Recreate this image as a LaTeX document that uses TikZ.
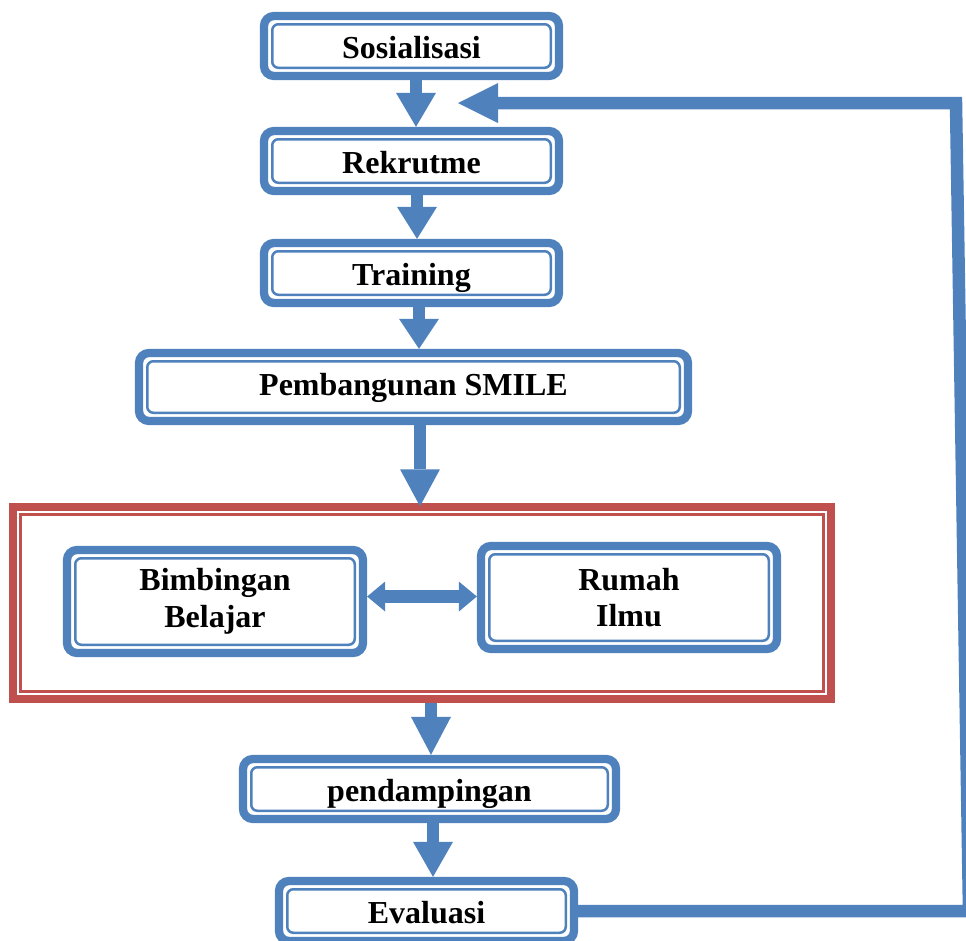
\documentclass[tikz,border=0pt]{standalone}
\usepackage{fontspec}
\setmainfont{Liberation Serif}
\usetikzlibrary{arrows.meta,calc}
\definecolor{ublue}{HTML}{4F81BD}
\definecolor{ured}{HTML}{C0504D}
\tikzset{
  bbox/.style={draw=ublue, line width=8.3pt, rounded corners=10pt, fill=white,
    inner sep=0pt, minimum width=295pt, minimum height=60pt, align=center,
    font=\fontsize{32}{36.5}\selectfont\bfseries},
  oneline/.style={text height=25pt, text depth=0pt},
  bthin/.style={draw=ublue, line width=2.5pt, rounded corners=6pt},
  redbox/.style={draw=ured, line width=8.3pt, inner sep=0pt,
    minimum width=817.6pt, minimum height=191.9pt},
  rthin/.style={draw=ured, line width=3.3pt},
  darrow/.style={draw=ublue, line width=12.5pt,
    -{Triangle[width=40pt,length=#1,line width=0pt]}},
  darrow/.default=34pt,
  barrow/.style={draw=ublue, line width=12.5pt, line join=miter}
}
\begin{document}
\begin{tikzpicture}[x=1pt,y=-1pt]
\path[use as bounding box] (0,0) rectangle (966,940);
\clip (0,0) rectangle (966,940);

% boxes
\node[bbox,oneline] (s) at (411.5,46) {Sosialisasi};
\node[bbox,oneline] (r) at (411.5,161) {Rekrutme};
\node[bbox,oneline] (t) at (411.5,273) {Training};
\node[bbox,text height=16pt,text depth=0pt,minimum width=549pt,minimum height=68pt] (p) at (413.5,387) {Pembangunan SMILE};
\node[redbox] (grp) at (422,602.85) {};
\node[bbox,minimum width=296pt,minimum height=103pt] (bb) at (215,601.5) {Bimbingan\\Belajar};
\node[bbox,minimum width=296pt,minimum height=103pt] (ri) at (629,597.5) {Rumah\\Ilmu};
\node[bbox,oneline,minimum width=373pt] (pd) at (429.5,789) {pendampingan};
\node[bbox,oneline] (ev) at (426.5,911) {Evaluasi};

% inner thin borders
\foreach \n in {s,r,t,p,bb,ri,pd,ev}
  \draw[bthin] ([shift={(12.4pt,12.4pt)}]\n.south west) rectangle ([shift={(-12.4pt,-12.4pt)}]\n.north east);
\draw[rthin] ([shift={(11.7pt,11.7pt)}]grp.south west) rectangle ([shift={(-11.7pt,-11.7pt)}]grp.north east);

% down arrows
\coordinate (a1) at ([xshift=4.5pt]s.south);
\coordinate (a2) at ([xshift=5.5pt]r.south);
\coordinate (a3) at ([xshift=7.5pt]t.south);
\coordinate (a4) at ([xshift=6.5pt]p.south);
\coordinate (a5) at ([xshift=9pt]grp.south);
\coordinate (a6) at ([xshift=3.5pt]pd.south);
\draw[darrow=34pt] (a1) -- (a1 |- r.north);
\draw[darrow=32pt] (a2) -- (a2 |- t.north);
\draw[darrow=30pt] (a3) -- (a3 |- p.north);
\draw[darrow=37pt, shorten >=-3.5pt] (a4) -- (a4 |- grp.north);
\draw[darrow=38pt] (a5) -- (a5 |- pd.north);
\draw[darrow=35pt] (a6) -- (a6 |- ev.north);

% double arrow
\coordinate (d1) at ([yshift=5pt]bb.east);
\draw[draw=ublue, line width=13pt,
  {Triangle[width=30pt,length=18pt,line width=0pt]}-{Triangle[width=30pt,length=18pt,line width=0pt]}]
  (d1) -- (d1 -| ri.west);

% feedback loop
\coordinate (fb1) at (969,911);
\coordinate (fb2) at (956,103);
\coordinate (fbtip) at (458,103);
\draw[barrow, -{Triangle[width=40pt,length=40pt,line width=0pt]}]
  (ev.east) -- (ev.east -| fb1) -- (fb2) -- (fbtip);
\end{tikzpicture}
\end{document}
